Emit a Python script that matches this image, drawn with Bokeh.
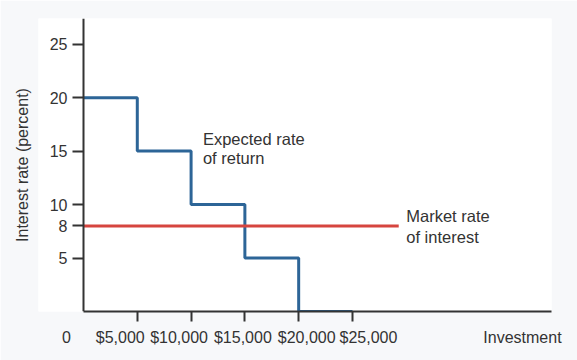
from bokeh.plotting import figure
from bokeh.models import Range1d, FixedTicker, Label, LinearAxis, Title
from bokeh.embed import file_html
from bokeh.resources import INLINE

# Data
investment = [0, 5000, 10000, 15000, 20000, 25000]
expected_return = [20, 15, 10, 5, 0, 0]
market_x = [0, 29300]
market_rate = [8, 8]
x_ticks = [5000, 10000, 15000, 20000, 25000]
x_tick_labels = ["$5,000", "$10,000", "$15,000", "$20,000", "$25,000"]
y_ticks = [5, 8, 10, 15, 20, 25]
origin_label = "0"
x_title = "Investment"
y_title = "Interest rate (percent)"

# Layout (pixels / positions of text, not data)
W, H = 577, 360
LEFT, RIGHT, TOP, BOTTOM = 38, 26, 18, 49
X_START, X_END = -4183, 43500
PX_PER_UNIT = (W - LEFT - RIGHT) / (X_END - X_START)
label_shift_px = [-17, -12, -2, 8, 16]  # packed tick-label row as in the original
origin_label_x = -1580
x_title_x = 40800

FONT = "Liberation Sans"
TXT = "#333333"

p = figure(width=W, height=H, output_backend="svg", toolbar_location=None,
           x_range=Range1d(X_START, X_END), y_range=Range1d(0, 27.4),
           min_border_left=LEFT, min_border_right=RIGHT,
           min_border_top=TOP, min_border_bottom=BOTTOM)
p.border_fill_color = "#f7f8fa"
p.background_fill_color = "white"
p.outline_line_color = None
p.grid.visible = False

p.step(investment, expected_return, mode="after", line_color="#2d6597", line_width=3)
p.line(market_x, market_rate, line_color="#d6453f", line_width=3)

# x axis: line and tick marks only
xa = p.xaxis[0]
xa.ticker = FixedTicker(ticks=x_ticks)
xa.bounds = (0, X_END)
xa.major_label_overrides = {t: "" for t in x_ticks}
xa.major_label_text_font_size = "0px"
xa.major_label_standoff = 0
xa.minor_tick_line_color = None
xa.major_tick_out = 10
xa.major_tick_in = 0
xa.axis_line_width = 2
xa.axis_line_color = "#333333"
xa.major_tick_line_width = 2
xa.major_tick_line_color = "#333333"

# x axis label row (labels only)
label_pos = [t + s / PX_PER_UNIT for t, s in zip(x_ticks, label_shift_px)]
row_ticks = [origin_label_x] + label_pos + [x_title_x]
row_text = [origin_label] + x_tick_labels + [x_title]
xl = LinearAxis(ticker=FixedTicker(ticks=row_ticks),
                major_label_overrides=dict(zip(row_ticks, row_text)))
xl.axis_line_color = None
xl.major_tick_line_color = None
xl.minor_tick_line_color = None
xl.major_tick_out = 0
xl.major_tick_in = 0
xl.major_label_text_font = FONT
xl.major_label_text_font_size = "16px"
xl.major_label_text_color = TXT
xl.major_label_standoff = 7
p.add_layout(xl, "below")

ya = p.yaxis[0]
ya.ticker = FixedTicker(ticks=y_ticks)
ya.fixed_location = 0
ya.bounds = (0, 27.4)
ya.minor_tick_line_color = None
ya.major_tick_out = 11
ya.major_tick_in = 0
ya.axis_line_width = 2
ya.axis_line_color = "#333333"
ya.major_tick_line_width = 2
ya.major_tick_line_color = "#333333"
ya.major_label_text_font = FONT
ya.major_label_text_font_size = "16px"
ya.major_label_text_color = TXT
ya.major_label_standoff = 5

p.add_layout(Title(text=y_title, align="center", text_font=FONT, text_font_size="16px",
                   text_font_style="normal", text_color=TXT, standoff=16), "left")

def lab(x, y, t):
    p.add_layout(Label(x=x, y=y, text=t, text_font=FONT, text_font_size="16.5px",
                       text_color=TXT, text_align="left", text_baseline="middle"))

lab(11100, 16.1, "Expected rate")
lab(11100, 14.4, "of return")
lab(30000, 8.9, "Market rate")
lab(30000, 7.0, "of interest")

open("out.html", "w").write(file_html(p, INLINE))
